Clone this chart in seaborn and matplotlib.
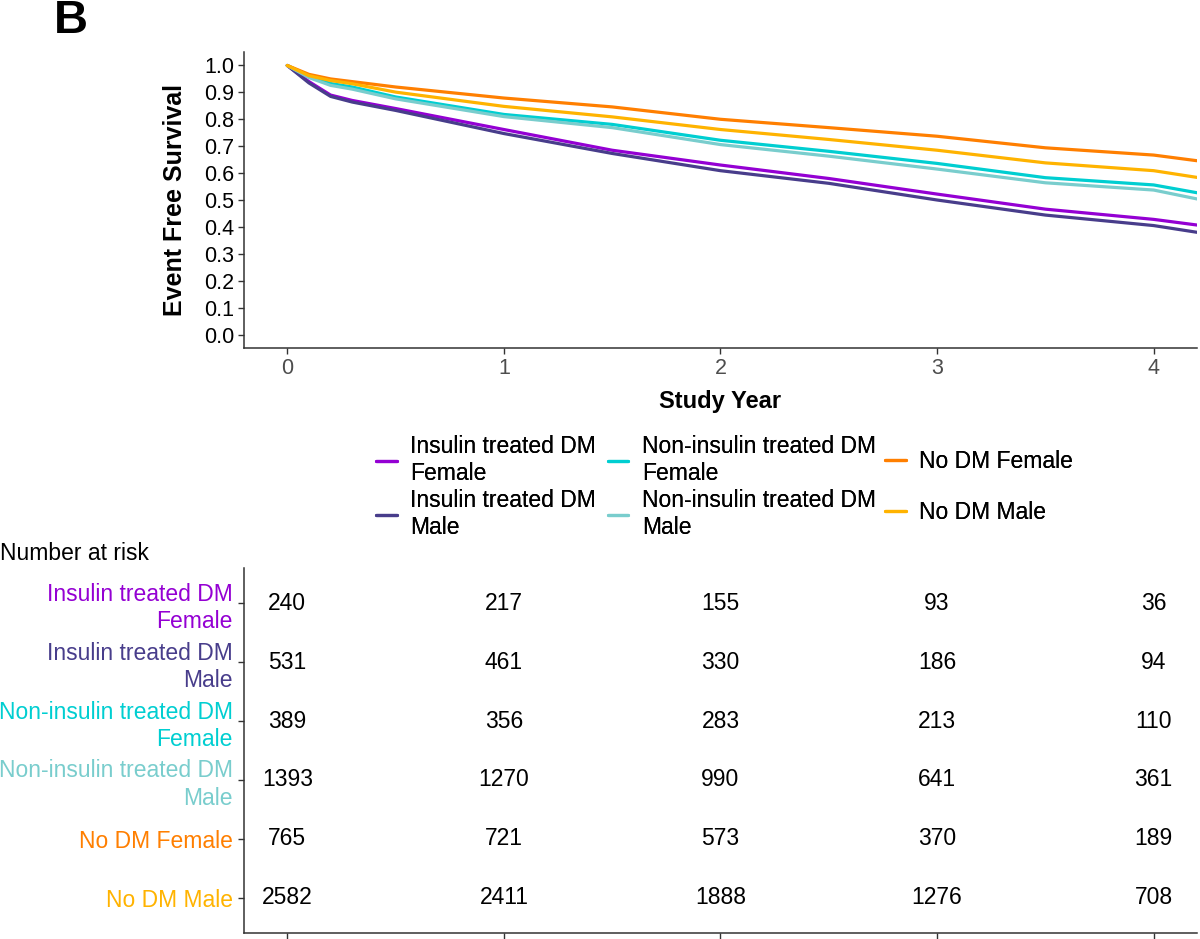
import numpy as np
import pandas as pd
import matplotlib
matplotlib.use("Agg")
import matplotlib.pyplot as plt
import seaborn as sns

# curve values
years = [0, 0.1, 0.2, 0.3, 0.5, 1.0, 1.5, 2.0, 2.5, 3.0, 3.5, 4.0, 4.2]
ins_female = [1.0, 0.94, 0.89, 0.87, 0.84, 0.762, 0.685, 0.63, 0.58, 0.522, 0.466, 0.428, 0.407]
ins_male = [1.0, 0.935, 0.885, 0.864, 0.833, 0.747, 0.673, 0.609, 0.562, 0.50, 0.444, 0.405, 0.38]
nonins_female = [1.0, 0.96, 0.933, 0.92, 0.883, 0.818, 0.781, 0.722, 0.681, 0.636, 0.583, 0.556, 0.527]
nonins_male = [1.0, 0.955, 0.926, 0.912, 0.876, 0.81, 0.769, 0.706, 0.663, 0.615, 0.564, 0.537, 0.504]
nodm_female = [1.0, 0.967, 0.95, 0.94, 0.92, 0.879, 0.846, 0.80, 0.769, 0.737, 0.694, 0.667, 0.646]
nodm_male = [1.0, 0.962, 0.944, 0.932, 0.901, 0.848, 0.809, 0.762, 0.725, 0.685, 0.638, 0.609, 0.584]

groups = ["Insulin treated DM\nFemale", "Insulin treated DM\nMale",
          "Non-insulin treated DM\nFemale", "Non-insulin treated DM\nMale",
          "No DM Female", "No DM Male"]
colors = ["#9400D3", "#483D8B", "#00CED1", "#79CDCD", "#FF7F00", "#FFB300"]

# number at risk
risk_years = [0, 1, 2, 3, 4]
risk_ins_female = [240, 217, 155, 93, 36]
risk_ins_male = [531, 461, 330, 186, 94]
risk_nonins_female = [389, 356, 283, 213, 110]
risk_nonins_male = [1393, 1270, 990, 641, 361]
risk_nodm_female = [765, 721, 573, 370, 189]
risk_nodm_male = [2582, 2411, 1888, 1276, 708]

curves = [ins_female, ins_male, nonins_female, nonins_male, nodm_female, nodm_male]
risks = [risk_ins_female, risk_ins_male, risk_nonins_female, risk_nonins_male,
         risk_nodm_female, risk_nodm_male]

df = pd.DataFrame({
    "year": np.tile(years, len(groups)),
    "surv": np.concatenate(curves),
    "group": np.repeat(groups, len(years)),
})

sns.set_style("white")
plt.rcParams["font.family"] = ["Liberation Sans", "DejaVu Sans"]
plt.rcParams["text.color"] = "black"
plt.rcParams["axes.labelcolor"] = "black"

fs = 16.5

fig = plt.figure(figsize=(12, 9.39), dpi=100)
ax = fig.add_axes([0.2033, 0.6294, 0.7942, 0.3152])
tab = fig.add_axes([0.2033, 0.0064, 0.7942, 0.3887])

sns.lineplot(data=df, x="year", y="surv", hue="group", hue_order=groups,
             palette=colors, linewidth=2.3, ax=ax, legend=False)
ax.set_xlim(-0.2, 4.2)
ax.set_ylim(-0.05, 1.05)
ax.set_yticks(np.arange(0, 1.01, 0.1))
ax.set_yticklabels([f"{v:.1f}" for v in np.arange(0, 1.01, 0.1)], fontsize=15.5, color="black")
ax.set_xticks(risk_years)
ax.set_xticklabels([str(v) for v in risk_years], fontsize=15.5, color="#4D4D4D")
ax.set_xlabel("Study Year", fontsize=17, fontweight="bold", labelpad=8)
ax.set_ylabel("Event Free Survival", fontsize=18, fontweight="bold", labelpad=12)
for s in ["top", "right"]:
    ax.spines[s].set_visible(False)
for s in ["left", "bottom"]:
    ax.spines[s].set_color("#333333")
    ax.spines[s].set_linewidth(1.1)
ax.tick_params(axis="both", length=4, width=1, color="#333333", pad=3, left=True, bottom=True)

# legend: three columns, each its own block so rows line up
handles = [plt.Line2D([], [], color=c, lw=2.3) for c in colors]
leg_x = [0.3133, 0.5065, 0.7375]
leg_kw = dict(loc="center left", frameon=False, fontsize=fs, handlelength=0.9,
              handletextpad=0.6, borderpad=0, borderaxespad=0)
for i, x0 in enumerate(leg_x):
    h = handles[2 * i:2 * i + 2]
    lab = groups[2 * i:2 * i + 2]
    ls = 0.2 if "\n" in lab[0] else 1.25
    lg = fig.legend(h, lab, bbox_to_anchor=(x0, 0.4815), labelspacing=ls, **leg_kw)
    fig.add_artist(lg)

# risk table
rows = list(range(len(groups), 0, -1))
for row, vals in zip(rows, risks):
    for yr, n in zip(risk_years, vals):
        tab.text(yr, row, str(n), ha="center", va="center", fontsize=fs, color="black")
tab.set_xlim(-0.2, 4.2)
tab.set_ylim(0.4, 6.6)
tab.set_xticks(risk_years)
tab.set_xticklabels([])
tab.set_yticks(rows)
tab.set_yticklabels(groups, fontsize=fs, ha="right", linespacing=1.25)
for lbl, c in zip(tab.get_yticklabels(), colors):
    lbl.set_color(c)
for s in ["top", "right"]:
    tab.spines[s].set_visible(False)
for s in ["left", "bottom"]:
    tab.spines[s].set_color("#333333")
    tab.spines[s].set_linewidth(1.1)
tab.tick_params(axis="both", length=4, width=1, color="#333333", pad=4, left=True, bottom=True)

fig.text(0.0, 0.411, "Number at risk", fontsize=fs, ha="left", va="center")
fig.text(0.045, 0.978, "B", fontsize=34, fontweight="bold", ha="left", va="center")

fig.savefig("out.png", dpi=100)
